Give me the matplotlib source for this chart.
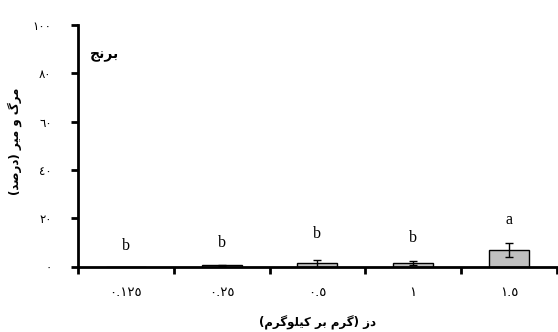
import unicodedata
import matplotlib
matplotlib.use("Agg")
import matplotlib.pyplot as plt
import numpy as np

# data
doses = ["٠.١٢٥", "٠.٢٥", "٠.٥", "١", "١.٥"]
mortality = [0.0, 0.6, 1.4, 1.65, 6.9]
errors = [0.0, 0.3, 1.6, 0.85, 2.9]
letters = ["b", "b", "b", "b", "a"]
letter_y = [8.7, 9.9, 13.6, 12.1, 19.4]
y_ticks = [0, 20, 40, 60, 80, 100]

title = "برنج"
ylabel = "مرگ و میر (درصد)"
xlabel = "دز (گرم بر کیلوگرم)"

# small arabic/persian shaper (matplotlib has no complex text layout)
forms = {}
for cp in range(0xFB50, 0xFF00):
    d = unicodedata.decomposition(chr(cp)).split()
    if len(d) == 2 and d[0] in ("<isolated>", "<final>", "<initial>", "<medial>"):
        forms.setdefault(chr(int(d[1], 16)), {})[d[0][1:-1]] = chr(cp)


def shape(s):
    dual = lambda c: c in forms and "initial" in forms[c]
    out = []
    for i, c in enumerate(s):
        if c not in forms:
            out.append(c)
            continue
        p = i > 0 and dual(s[i - 1])
        n = dual(c) and i + 1 < len(s) and s[i + 1] in forms
        f = "medial" if p and n else "final" if p else "initial" if n else "isolated"
        out.append(forms[c].get(f, forms[c].get("isolated", c)))
    vis = "".join(out[::-1])
    return vis.translate(str.maketrans("()", ")("))


fa = lambda v: str(v).translate(str.maketrans("0123456789", "٠١٢٣٤٥٦٧٨٩"))

plt.rcParams["font.family"] = ["Liberation Serif", "DejaVu Sans"]

fig = plt.figure(figsize=(5.58, 3.32), dpi=100)
ax = fig.add_axes([0.1398, 0.1965, 0.858, 0.728])

x = np.arange(len(doses))
ax.bar(x, mortality, width=0.42, color="#c0c0c0", edgecolor="black", linewidth=1)
ax.errorbar(x[1:], mortality[1:], yerr=errors[1:], fmt="none", ecolor="black",
            elinewidth=1, capsize=3, capthick=1)

for xi, yi, t in zip(x, letter_y, letters):
    ax.text(xi, yi, t, ha="center", va="center", fontsize=11.5,
            family="Liberation Serif")

ax.text(0.025, 0.875, shape(title), transform=ax.transAxes, fontsize=10,
        fontweight="bold", family="DejaVu Sans", va="center")

ax.set_xlim(-0.5, len(doses) - 0.5)
ax.set_ylim(0, 100)
ax.set_yticks(y_ticks)
ax.set_yticklabels([fa(v) for v in y_ticks], fontsize=8.5, family="DejaVu Sans",
                   va="center_baseline")
ax.set_xticks(x)
ax.set_xticklabels(doses, fontsize=9.5, family="DejaVu Sans")
ax.set_xticks(np.arange(len(doses) + 1) - 0.5, minor=True)
ax.tick_params(axis="x", which="major", length=0, pad=14)
ax.tick_params(axis="x", which="minor", length=5, width=2, direction="out")
ax.tick_params(axis="y", length=5, width=2, direction="out", pad=14)

for s in ["top", "right"]:
    ax.spines[s].set_visible(False)
for s in ["left", "bottom"]:
    ax.spines[s].set_linewidth(2)

ax.set_ylabel(shape(ylabel), fontsize=8.5, fontweight="bold", family="DejaVu Sans")
ax.yaxis.set_label_coords(-0.117, 0.52)
ax.set_xlabel(shape(xlabel), fontsize=8.5, fontweight="bold", family="DejaVu Sans")
ax.xaxis.set_label_coords(0.5, -0.2)

fig.savefig("out.png", dpi=100)
